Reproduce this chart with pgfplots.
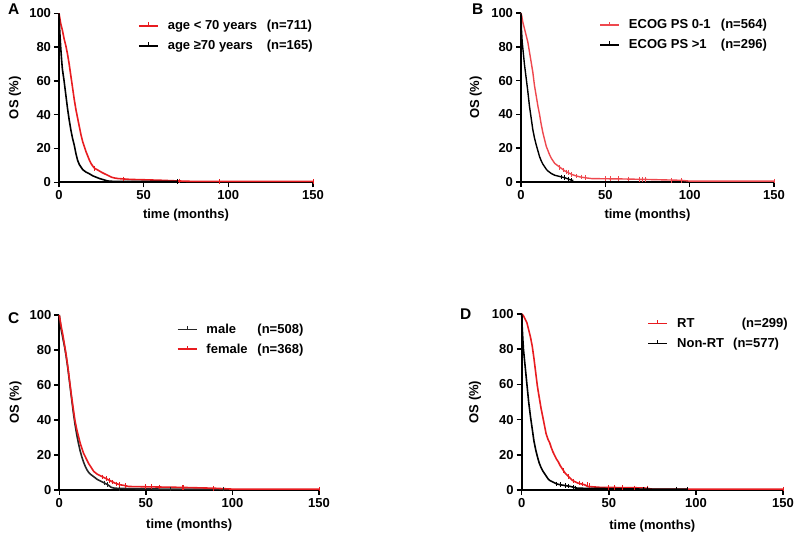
\documentclass[border=0pt]{standalone}
\usepackage{fontspec}
\setmainfont{Liberation Sans}
\usepackage{pgfplots}
\pgfplotsset{compat=1.18}
\definecolor{kmred}{RGB}{232,28,32}
\definecolor{kmredB}{RGB}{238,72,78}
\newcommand{\fs}{\fontsize{13}{15}\selectfont\bfseries}
\pgfplotsset{
  km/.style={
    scale only axis, axis lines=left, axis line style={-, line width=1.7pt},
    xmin=0, xmax=150, ymin=0, ymax=100,
    xtick={0,50,100,150}, ytick={0,20,40,60,80,100},
    tick align=outside, major tick length=5pt,
    tick style={line width=1.5pt, black},
    /pgf/number format/assume math mode=true,
    ticklabel style={font=\fs},
    yticklabel style={xshift=0.5pt},
    label style={font=\fs},
    xlabel={time (months)}, ylabel={OS (\%)},
    clip=false,
    legend cell align=left,
    legend style={draw=none, fill=none, inner sep=0pt, anchor=west, font=\fs,
      row sep=5pt, /tikz/every odd column/.append style={column sep=7pt}},
    legend image code/.code={\draw[##1, line width=1.6pt] (0pt,0pt) -- (19pt,0pt); \draw[##1, line width=1.2pt] (9.5pt,0pt) -- (9.5pt,3.5pt);},
  },
  kmline/.style={sharp plot, line width=1.6pt, mark=none, line join=round},
  kmcens/.style={only marks, mark=|, mark size=2.3pt, mark options={line width=1pt}, forget plot},
}
\begin{document}
\begin{tikzpicture}[x=1pt,y=1pt]
\path[use as bounding box, clip] (0,0) rectangle (800,534);

% ---------------- Panel A ----------------
\begin{axis}[km, at={(59pt,351.7pt)}, anchor=south west, width=254pt, height=169pt,
  ylabel style={at={(axis description cs:-0.173,0.5)}, anchor=center},
  xlabel style={at={(axis description cs:0.5,-0.195)}, anchor=center},
  legend style={at={(axis description cs:0.311,0.866)}}]
\addplot[kmline, kmred] coordinates {
(0,100)(0.5,97)(1,94)(2,90)(3,85)(4,81)(5,76)(6,70)(7,63)(8,56)(9,49)(10,43)(11,38)(12,33)(13,28)(14,24)(15,21)(16,18)(17,15.5)(18,13)(19,11)(20,9.5)(21,8.3)(23,7.2)(25,6)(27,5)(29,4)(31,3)(33,2.5)(35,2.2)(38,2)(42,1.7)(50,1.5)(60,1.2)(70,0.8)(80,0.5)(150,0.5)};
\addlegendentry{\makebox[99pt][l]{age < 70 years}(n=711)}
\addplot[kmline, black] coordinates {
(0,100)(0.3,92)(0.7,85)(1,80)(1.5,73)(2,67)(3,60)(4,52)(5,44)(6,37)(7,31)(8,26)(9,22)(10,17)(11,13)(12,10.5)(13,9)(14,7.5)(16,6)(18,5)(20,3.8)(22,3)(24,2.2)(26,1.6)(28,1)(30,0.6)(40,0.5)(70,0.5)};
\addlegendentry{\makebox[99pt][l]{age ≥70 years}(n=165)}
\addplot[kmcens, kmred] coordinates {(21,8.3)(38,2)(71,0.8)(95,0.5)(150,0.5)};
\addplot[kmcens, black] coordinates {(70,0.5)};
\end{axis}

% ---------------- Panel B ----------------
\begin{axis}[km, at={(521pt,352pt)}, anchor=south west, width=253pt, height=169pt,
  ylabel style={at={(axis description cs:-0.179,0.5)}, anchor=center},
  xlabel style={at={(axis description cs:0.5,-0.195)}, anchor=center},
  legend style={at={(axis description cs:0.309,0.87)}}]
\addplot[kmline, kmredB, line width=1.4pt] coordinates {
(0,100)(0.5,98)(1,95)(2,91)(3,87)(4,83)(5,77)(6,71)(7,65)(8,57)(9,51)(10,45)(11,40)(12,34)(13,29)(14,25)(15,21)(16,18.5)(17,16)(18,14)(19,12.5)(20,11)(22,9.5)(24,8)(26,6.5)(28,5.5)(30,4.5)(32,3.8)(35,3)(38,2.5)(42,2)(60,1.8)(75,1.5)(95,1)(100,0.5)(150,0.5)};
\addlegendentry{\makebox[92pt][l]{ECOG PS 0-1}(n=564)}
\addplot[kmline, black, line width=1.4pt] coordinates {
(0,100)(0.3,90)(0.7,83)(1,80)(1.5,75)(2,70)(3,62)(4,54)(5,45)(6,38)(7,31)(8,26)(9,22)(10,18.5)(11,15)(12,12.5)(13,10.5)(14,9)(15,7.5)(16,6.5)(18,5)(20,4)(22,3.5)(24,3)(26,2.5)(28,1.8)(30,1)(31,1)};
\addlegendentry{\makebox[92pt][l]{ECOG PS >1}(n=296)}
\addplot[kmcens, kmredB] coordinates {(23,8.5)(25,7)(27,6)(28,5.5)(30,4.5)(33,3.5)(36,3)(38,2.5)(50,2)(53,2)(58,2)(64,1.8)(70,1.6)(72,1.6)(74,1.5)(89,1)(95,1)(150,0.5)};
\addplot[kmcens, black] coordinates {(24,3)(26,2.5)(28,1.8)(30,1)};
\end{axis}

% ---------------- Panel C ----------------
\begin{axis}[km, at={(59.3pt,44pt)}, anchor=south west, width=259.7pt, height=175pt,
  ylabel style={at={(axis description cs:-0.169,0.5)}, anchor=center},
  xlabel style={at={(axis description cs:0.5,-0.2)}, anchor=center},
  legend style={at={(axis description cs:0.452,0.861)}}]
\addplot[kmline, black!85] coordinates {
(0,100)(0.5,96)(1,92)(2,87)(3,82)(4,76)(5,69)(6,61)(7,53)(8,45)(9,38)(10,32)(11,27)(12,22.5)(13,19)(14,16)(15,13.5)(16,11.5)(17,10)(18,9)(20,7.5)(22,6)(24,5)(26,4)(28,3)(30,1.5)(32,1)(40,0.8)(60,0.5)(95,0.5)};
\addlegendentry{\makebox[51pt][l]{male}(n=508)}
\addplot[kmline, kmred] coordinates {
(0,100)(0.5,97)(1,94)(2,89)(3,83)(4,77)(5,70)(6,62)(7,54)(8,47)(9,40)(10,35)(11,31)(12,27)(13,24)(14,21)(15,19)(16,17)(17,15)(18,13.5)(19,12)(20,10.5)(22,9)(24,8)(26,7)(28,6)(30,5)(32,4)(35,3)(38,2.5)(40,2)(70,1.5)(90,1)(100,0.5)(150,0.5)};
\addlegendentry{\makebox[51pt][l]{female}(n=368)}
\addplot[kmcens, black!85] coordinates {(26,4)(28,3)(35,1)(64,0.5)(95,0.5)};
\addplot[kmcens, kmred] coordinates {(25,7.5)(27,6.5)(29,5.5)(31,4.5)(33,3.5)(35,3)(38,2.5)(50,2)(53,2)(58,1.8)(71,1.5)(72,1.5)(89,1)(150,0.5)};
\end{axis}

% ---------------- Panel D ----------------
\begin{axis}[km, at={(521.7pt,44pt)}, anchor=south west, width=261.3pt, height=176pt,
  ylabel style={at={(axis description cs:-0.179,0.5)}, anchor=center},
  xlabel style={at={(axis description cs:0.5,-0.205)}, anchor=center},
  legend style={at={(axis description cs:0.481,0.89)}}]
\addplot[kmline, kmred] coordinates {
(0,100)(1,99)(2,97)(3,95)(4,91)(5,87)(6,82)(7,75)(8,67)(9,59)(10,53)(11,47)(12,42)(13,37)(14,32)(15,29)(16,27)(17,24)(18,21.5)(19,19.5)(20,17.5)(21,16)(22,14)(23,12.5)(24,11)(25,9.5)(26,8.5)(27,7.5)(28,6.5)(29,5.5)(30,5)(32,4)(34,3.5)(36,3)(38,2)(45,1.5)(70,1.2)(75,0.5)(150,0.5)};
\addlegendentry{\makebox[64.7pt][l]{RT}(n=299)}
\addplot[kmline, black] coordinates {
(0,100)(0.3,92)(0.7,85)(1,80)(2,70)(3,60)(4,50)(5,42)(6,35)(7,28)(8,23)(9,19)(10,15.5)(11,13)(12,11)(13,9.5)(14,8)(15,6.5)(16,5.5)(18,4.5)(20,3.5)(22,3)(25,2.5)(28,2)(30,1.5)(32,1)(50,0.8)(70,0.5)(95,0.5)};
\addlegendentry{\makebox[56pt][l]{Non-RT}(n=577)}
\addplot[kmcens, kmred] coordinates {(24,11)(27,7.5)(30,5)(33,4)(35,3.5)(38,3)(39,2.5)(50,1.5)(53,1.5)(58,1.5)(65,1.2)(72,1.2)(150,0.5)};
\addplot[kmcens, black] coordinates {(20,3.5)(22,3)(25,2.5)(27,2.2)(30,1.5)(31,1.2)(70,0.5)(72,0.5)(89,0.5)(95,0.5)};
\end{axis}

\node[font=\fontsize{15.5}{17}\selectfont\bfseries, anchor=west, inner sep=0pt] at (8,524.5) {A};
\node[font=\fontsize{15.5}{17}\selectfont\bfseries, anchor=west, inner sep=0pt] at (472,524.5) {B};
\node[font=\fontsize{15.5}{17}\selectfont\bfseries, anchor=west, inner sep=0pt] at (8,216) {C};
\node[font=\fontsize{15.5}{17}\selectfont\bfseries, anchor=west, inner sep=0pt] at (460,220) {D};
\end{tikzpicture}
\end{document}
